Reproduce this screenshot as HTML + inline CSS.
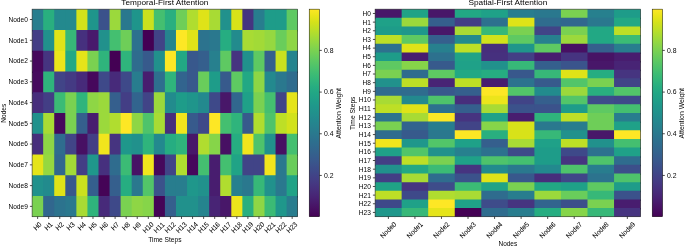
<!DOCTYPE html>
<html><head><meta charset="utf-8"><title>Attention heatmaps</title>
<style>
html,body{margin:0;padding:0;background:#fff;}
body{width:685px;height:247px;overflow:hidden;}
svg text{font-family:"Liberation Sans",sans-serif;fill:#000;}
#txt{opacity:0.999;}
svg text{stroke:none;}
svg text.r{stroke:#000;stroke-width:0.05px;}
</style></head><body>
<svg width="685" height="247" viewBox="0 0 685 247" style="display:block">
<rect width="685" height="247" fill="#fff"/>
<defs><linearGradient id="vg" x1="0" y1="1" x2="0" y2="0">
<stop offset="0.0000" stop-color="#440154"/>
<stop offset="0.0312" stop-color="#470d60"/>
<stop offset="0.0625" stop-color="#48186a"/>
<stop offset="0.0938" stop-color="#482374"/>
<stop offset="0.1250" stop-color="#472d7b"/>
<stop offset="0.1562" stop-color="#453781"/>
<stop offset="0.1875" stop-color="#424086"/>
<stop offset="0.2188" stop-color="#3e4989"/>
<stop offset="0.2500" stop-color="#3b528b"/>
<stop offset="0.2812" stop-color="#375b8d"/>
<stop offset="0.3125" stop-color="#33638d"/>
<stop offset="0.3438" stop-color="#2f6b8e"/>
<stop offset="0.3750" stop-color="#2c728e"/>
<stop offset="0.4062" stop-color="#297a8e"/>
<stop offset="0.4375" stop-color="#26828e"/>
<stop offset="0.4688" stop-color="#23898e"/>
<stop offset="0.5000" stop-color="#21918c"/>
<stop offset="0.5312" stop-color="#1f978b"/>
<stop offset="0.5625" stop-color="#1f9f88"/>
<stop offset="0.5938" stop-color="#21a685"/>
<stop offset="0.6250" stop-color="#27ad81"/>
<stop offset="0.6562" stop-color="#31b57b"/>
<stop offset="0.6875" stop-color="#3dbc74"/>
<stop offset="0.7188" stop-color="#4cc26c"/>
<stop offset="0.7500" stop-color="#5cc863"/>
<stop offset="0.7812" stop-color="#6ece58"/>
<stop offset="0.8125" stop-color="#81d34d"/>
<stop offset="0.8438" stop-color="#95d840"/>
<stop offset="0.8750" stop-color="#aadc32"/>
<stop offset="0.9062" stop-color="#c0df25"/>
<stop offset="0.9375" stop-color="#d5e21a"/>
<stop offset="0.9688" stop-color="#eae51a"/>
<stop offset="1.0000" stop-color="#fde725"/>
</linearGradient></defs>
<clipPath id="c32"><rect x="32.10" y="9.15" width="265.60" height="207.60"/></clipPath>
<g clip-path="url(#c32)">
<clipPath id="c32r0"><rect x="31.10" y="9.15" width="267.60" height="22.26"/></clipPath>
<g clip-path="url(#c32r0)" opacity="0.9999">
<rect x="32.10" y="8.15" width="12.27" height="23.76" fill="#287d8e"/>
<rect x="43.17" y="8.15" width="12.27" height="23.76" fill="#29af7f"/>
<rect x="54.23" y="8.15" width="12.27" height="23.76" fill="#23898e"/>
<rect x="65.30" y="8.15" width="12.27" height="23.76" fill="#23898e"/>
<rect x="76.37" y="8.15" width="12.27" height="23.76" fill="#d2e21b"/>
<rect x="87.43" y="8.15" width="12.27" height="23.76" fill="#1f958b"/>
<rect x="98.50" y="8.15" width="12.27" height="23.76" fill="#3b528b"/>
<rect x="109.57" y="8.15" width="12.27" height="23.76" fill="#9bd93c"/>
<rect x="120.63" y="8.15" width="12.27" height="23.76" fill="#2a788e"/>
<rect x="131.70" y="8.15" width="12.27" height="23.76" fill="#1f958b"/>
<rect x="142.77" y="8.15" width="12.27" height="23.76" fill="#cae11f"/>
<rect x="153.83" y="8.15" width="12.27" height="23.76" fill="#44bf70"/>
<rect x="164.90" y="8.15" width="12.27" height="23.76" fill="#29af7f"/>
<rect x="175.97" y="8.15" width="12.27" height="23.76" fill="#6ece58"/>
<rect x="187.03" y="8.15" width="12.27" height="23.76" fill="#b0dd2f"/>
<rect x="198.10" y="8.15" width="12.27" height="23.76" fill="#dfe318"/>
<rect x="209.17" y="8.15" width="12.27" height="23.76" fill="#a8db34"/>
<rect x="220.23" y="8.15" width="12.27" height="23.76" fill="#21918c"/>
<rect x="231.30" y="8.15" width="12.27" height="23.76" fill="#d8e219"/>
<rect x="242.37" y="8.15" width="12.27" height="23.76" fill="#463480"/>
<rect x="253.43" y="8.15" width="12.27" height="23.76" fill="#287d8e"/>
<rect x="264.50" y="8.15" width="12.27" height="23.76" fill="#1e9c89"/>
<rect x="275.57" y="8.15" width="12.27" height="23.76" fill="#1e9c89"/>
<rect x="286.63" y="8.15" width="12.27" height="23.76" fill="#5ec962"/>
</g>
<clipPath id="c32r1"><rect x="31.10" y="29.91" width="267.60" height="22.26"/></clipPath>
<g clip-path="url(#c32r1)" opacity="0.9999">
<rect x="32.10" y="28.91" width="12.27" height="23.76" fill="#433e85"/>
<rect x="43.17" y="28.91" width="12.27" height="23.76" fill="#21918c"/>
<rect x="54.23" y="28.91" width="12.27" height="23.76" fill="#dfe318"/>
<rect x="65.30" y="28.91" width="12.27" height="23.76" fill="#37b878"/>
<rect x="76.37" y="28.91" width="12.27" height="23.76" fill="#46307e"/>
<rect x="87.43" y="28.91" width="12.27" height="23.76" fill="#481a6c"/>
<rect x="98.50" y="28.91" width="12.27" height="23.76" fill="#21918c"/>
<rect x="109.57" y="28.91" width="12.27" height="23.76" fill="#44bf70"/>
<rect x="120.63" y="28.91" width="12.27" height="23.76" fill="#6ece58"/>
<rect x="131.70" y="28.91" width="12.27" height="23.76" fill="#2d718e"/>
<rect x="142.77" y="28.91" width="12.27" height="23.76" fill="#440154"/>
<rect x="153.83" y="28.91" width="12.27" height="23.76" fill="#414487"/>
<rect x="164.90" y="28.91" width="12.27" height="23.76" fill="#25848e"/>
<rect x="175.97" y="28.91" width="12.27" height="23.76" fill="#fde725"/>
<rect x="187.03" y="28.91" width="12.27" height="23.76" fill="#dfe318"/>
<rect x="198.10" y="28.91" width="12.27" height="23.76" fill="#2c738e"/>
<rect x="209.17" y="28.91" width="12.27" height="23.76" fill="#2a788e"/>
<rect x="220.23" y="28.91" width="12.27" height="23.76" fill="#26ad81"/>
<rect x="231.30" y="28.91" width="12.27" height="23.76" fill="#228b8d"/>
<rect x="242.37" y="28.91" width="12.27" height="23.76" fill="#a8db34"/>
<rect x="253.43" y="28.91" width="12.27" height="23.76" fill="#a2da37"/>
<rect x="264.50" y="28.91" width="12.27" height="23.76" fill="#95d840"/>
<rect x="275.57" y="28.91" width="12.27" height="23.76" fill="#69cd5b"/>
<rect x="286.63" y="28.91" width="12.27" height="23.76" fill="#8ed645"/>
</g>
<clipPath id="c32r2"><rect x="31.10" y="50.67" width="267.60" height="22.26"/></clipPath>
<g clip-path="url(#c32r2)" opacity="0.9999">
<rect x="32.10" y="49.67" width="12.27" height="23.76" fill="#46085c"/>
<rect x="43.17" y="49.67" width="12.27" height="23.76" fill="#463480"/>
<rect x="54.23" y="49.67" width="12.27" height="23.76" fill="#ece51b"/>
<rect x="65.30" y="49.67" width="12.27" height="23.76" fill="#22a884"/>
<rect x="76.37" y="49.67" width="12.27" height="23.76" fill="#e5e419"/>
<rect x="87.43" y="49.67" width="12.27" height="23.76" fill="#7ad151"/>
<rect x="98.50" y="49.67" width="12.27" height="23.76" fill="#2fb47c"/>
<rect x="109.57" y="49.67" width="12.27" height="23.76" fill="#440154"/>
<rect x="120.63" y="49.67" width="12.27" height="23.76" fill="#2fb47c"/>
<rect x="131.70" y="49.67" width="12.27" height="23.76" fill="#2f6c8e"/>
<rect x="142.77" y="49.67" width="12.27" height="23.76" fill="#375a8c"/>
<rect x="153.83" y="49.67" width="12.27" height="23.76" fill="#21918c"/>
<rect x="164.90" y="49.67" width="12.27" height="23.76" fill="#fde725"/>
<rect x="175.97" y="49.67" width="12.27" height="23.76" fill="#22a884"/>
<rect x="187.03" y="49.67" width="12.27" height="23.76" fill="#38588c"/>
<rect x="198.10" y="49.67" width="12.27" height="23.76" fill="#355f8d"/>
<rect x="209.17" y="49.67" width="12.27" height="23.76" fill="#27808e"/>
<rect x="220.23" y="49.67" width="12.27" height="23.76" fill="#5ec962"/>
<rect x="231.30" y="49.67" width="12.27" height="23.76" fill="#463480"/>
<rect x="242.37" y="49.67" width="12.27" height="23.76" fill="#21918c"/>
<rect x="253.43" y="49.67" width="12.27" height="23.76" fill="#5ec962"/>
<rect x="264.50" y="49.67" width="12.27" height="23.76" fill="#355f8d"/>
<rect x="275.57" y="49.67" width="12.27" height="23.76" fill="#cae11f"/>
<rect x="286.63" y="49.67" width="12.27" height="23.76" fill="#25848e"/>
</g>
<clipPath id="c32r3"><rect x="31.10" y="71.43" width="267.60" height="22.26"/></clipPath>
<g clip-path="url(#c32r3)" opacity="0.9999">
<rect x="32.10" y="70.43" width="12.27" height="23.76" fill="#460b5e"/>
<rect x="43.17" y="70.43" width="12.27" height="23.76" fill="#2fb47c"/>
<rect x="54.23" y="70.43" width="12.27" height="23.76" fill="#414487"/>
<rect x="65.30" y="70.43" width="12.27" height="23.76" fill="#443a83"/>
<rect x="76.37" y="70.43" width="12.27" height="23.76" fill="#472a7a"/>
<rect x="87.43" y="70.43" width="12.27" height="23.76" fill="#46085c"/>
<rect x="98.50" y="70.43" width="12.27" height="23.76" fill="#3e4989"/>
<rect x="109.57" y="70.43" width="12.27" height="23.76" fill="#472a7a"/>
<rect x="120.63" y="70.43" width="12.27" height="23.76" fill="#3e4989"/>
<rect x="131.70" y="70.43" width="12.27" height="23.76" fill="#287d8e"/>
<rect x="142.77" y="70.43" width="12.27" height="23.76" fill="#481d6f"/>
<rect x="153.83" y="70.43" width="12.27" height="23.76" fill="#2e6f8e"/>
<rect x="164.90" y="70.43" width="12.27" height="23.76" fill="#2fb47c"/>
<rect x="175.97" y="70.43" width="12.27" height="23.76" fill="#32648e"/>
<rect x="187.03" y="70.43" width="12.27" height="23.76" fill="#38588c"/>
<rect x="198.10" y="70.43" width="12.27" height="23.76" fill="#69cd5b"/>
<rect x="209.17" y="70.43" width="12.27" height="23.76" fill="#1e9c89"/>
<rect x="220.23" y="70.43" width="12.27" height="23.76" fill="#375a8c"/>
<rect x="231.30" y="70.43" width="12.27" height="23.76" fill="#5ec962"/>
<rect x="242.37" y="70.43" width="12.27" height="23.76" fill="#22a884"/>
<rect x="253.43" y="70.43" width="12.27" height="23.76" fill="#8ed645"/>
<rect x="264.50" y="70.43" width="12.27" height="23.76" fill="#23898e"/>
<rect x="275.57" y="70.43" width="12.27" height="23.76" fill="#2a788e"/>
<rect x="286.63" y="70.43" width="12.27" height="23.76" fill="#2f6c8e"/>
</g>
<clipPath id="c32r4"><rect x="31.10" y="92.19" width="267.60" height="22.26"/></clipPath>
<g clip-path="url(#c32r4)" opacity="0.9999">
<rect x="32.10" y="91.19" width="12.27" height="23.76" fill="#472e7c"/>
<rect x="43.17" y="91.19" width="12.27" height="23.76" fill="#433e85"/>
<rect x="54.23" y="91.19" width="12.27" height="23.76" fill="#3bbb75"/>
<rect x="65.30" y="91.19" width="12.27" height="23.76" fill="#7ad151"/>
<rect x="76.37" y="91.19" width="12.27" height="23.76" fill="#2fb47c"/>
<rect x="87.43" y="91.19" width="12.27" height="23.76" fill="#8ed645"/>
<rect x="98.50" y="91.19" width="12.27" height="23.76" fill="#9bd93c"/>
<rect x="109.57" y="91.19" width="12.27" height="23.76" fill="#355f8d"/>
<rect x="120.63" y="91.19" width="12.27" height="23.76" fill="#433e85"/>
<rect x="131.70" y="91.19" width="12.27" height="23.76" fill="#32648e"/>
<rect x="142.77" y="91.19" width="12.27" height="23.76" fill="#414487"/>
<rect x="153.83" y="91.19" width="12.27" height="23.76" fill="#9bd93c"/>
<rect x="164.90" y="91.19" width="12.27" height="23.76" fill="#228b8d"/>
<rect x="175.97" y="91.19" width="12.27" height="23.76" fill="#1e9c89"/>
<rect x="187.03" y="91.19" width="12.27" height="23.76" fill="#1f958b"/>
<rect x="198.10" y="91.19" width="12.27" height="23.76" fill="#23898e"/>
<rect x="209.17" y="91.19" width="12.27" height="23.76" fill="#3e4989"/>
<rect x="220.23" y="91.19" width="12.27" height="23.76" fill="#481769"/>
<rect x="231.30" y="91.19" width="12.27" height="23.76" fill="#31678e"/>
<rect x="242.37" y="91.19" width="12.27" height="23.76" fill="#1fa188"/>
<rect x="253.43" y="91.19" width="12.27" height="23.76" fill="#7ad151"/>
<rect x="264.50" y="91.19" width="12.27" height="23.76" fill="#44bf70"/>
<rect x="275.57" y="91.19" width="12.27" height="23.76" fill="#414487"/>
<rect x="286.63" y="91.19" width="12.27" height="23.76" fill="#e5e419"/>
</g>
<clipPath id="c32r5"><rect x="31.10" y="112.95" width="267.60" height="22.26"/></clipPath>
<g clip-path="url(#c32r5)" opacity="0.9999">
<rect x="32.10" y="111.95" width="12.27" height="23.76" fill="#21918c"/>
<rect x="43.17" y="111.95" width="12.27" height="23.76" fill="#a8db34"/>
<rect x="54.23" y="111.95" width="12.27" height="23.76" fill="#46085c"/>
<rect x="65.30" y="111.95" width="12.27" height="23.76" fill="#7ad151"/>
<rect x="76.37" y="111.95" width="12.27" height="23.76" fill="#355f8d"/>
<rect x="87.43" y="111.95" width="12.27" height="23.76" fill="#481d6f"/>
<rect x="98.50" y="111.95" width="12.27" height="23.76" fill="#9bd93c"/>
<rect x="109.57" y="111.95" width="12.27" height="23.76" fill="#b0dd2f"/>
<rect x="120.63" y="111.95" width="12.27" height="23.76" fill="#fde725"/>
<rect x="131.70" y="111.95" width="12.27" height="23.76" fill="#8ed645"/>
<rect x="142.77" y="111.95" width="12.27" height="23.76" fill="#4ec36b"/>
<rect x="153.83" y="111.95" width="12.27" height="23.76" fill="#a8db34"/>
<rect x="164.90" y="111.95" width="12.27" height="23.76" fill="#472e7c"/>
<rect x="175.97" y="111.95" width="12.27" height="23.76" fill="#f1e51d"/>
<rect x="187.03" y="111.95" width="12.27" height="23.76" fill="#375a8c"/>
<rect x="198.10" y="111.95" width="12.27" height="23.76" fill="#3e4989"/>
<rect x="209.17" y="111.95" width="12.27" height="23.76" fill="#fde725"/>
<rect x="220.23" y="111.95" width="12.27" height="23.76" fill="#44bf70"/>
<rect x="231.30" y="111.95" width="12.27" height="23.76" fill="#2fb47c"/>
<rect x="242.37" y="111.95" width="12.27" height="23.76" fill="#375a8c"/>
<rect x="253.43" y="111.95" width="12.27" height="23.76" fill="#b0dd2f"/>
<rect x="264.50" y="111.95" width="12.27" height="23.76" fill="#4ec36b"/>
<rect x="275.57" y="111.95" width="12.27" height="23.76" fill="#bddf26"/>
<rect x="286.63" y="111.95" width="12.27" height="23.76" fill="#d2e21b"/>
</g>
<clipPath id="c32r6"><rect x="31.10" y="133.71" width="267.60" height="22.26"/></clipPath>
<g clip-path="url(#c32r6)" opacity="0.9999">
<rect x="32.10" y="132.71" width="12.27" height="23.76" fill="#472e7c"/>
<rect x="43.17" y="132.71" width="12.27" height="23.76" fill="#8ed645"/>
<rect x="54.23" y="132.71" width="12.27" height="23.76" fill="#2f6c8e"/>
<rect x="65.30" y="132.71" width="12.27" height="23.76" fill="#414487"/>
<rect x="76.37" y="132.71" width="12.27" height="23.76" fill="#471063"/>
<rect x="87.43" y="132.71" width="12.27" height="23.76" fill="#433e85"/>
<rect x="98.50" y="132.71" width="12.27" height="23.76" fill="#f1e51d"/>
<rect x="109.57" y="132.71" width="12.27" height="23.76" fill="#463480"/>
<rect x="120.63" y="132.71" width="12.27" height="23.76" fill="#1f978b"/>
<rect x="131.70" y="132.71" width="12.27" height="23.76" fill="#21918c"/>
<rect x="142.77" y="132.71" width="12.27" height="23.76" fill="#2fb47c"/>
<rect x="153.83" y="132.71" width="12.27" height="23.76" fill="#23898e"/>
<rect x="164.90" y="132.71" width="12.27" height="23.76" fill="#26ad81"/>
<rect x="175.97" y="132.71" width="12.27" height="23.76" fill="#2fb47c"/>
<rect x="187.03" y="132.71" width="12.27" height="23.76" fill="#481769"/>
<rect x="198.10" y="132.71" width="12.27" height="23.76" fill="#b0dd2f"/>
<rect x="209.17" y="132.71" width="12.27" height="23.76" fill="#86d549"/>
<rect x="220.23" y="132.71" width="12.27" height="23.76" fill="#471063"/>
<rect x="231.30" y="132.71" width="12.27" height="23.76" fill="#26ad81"/>
<rect x="242.37" y="132.71" width="12.27" height="23.76" fill="#f1e51d"/>
<rect x="253.43" y="132.71" width="12.27" height="23.76" fill="#4ec36b"/>
<rect x="264.50" y="132.71" width="12.27" height="23.76" fill="#21918c"/>
<rect x="275.57" y="132.71" width="12.27" height="23.76" fill="#471063"/>
<rect x="286.63" y="132.71" width="12.27" height="23.76" fill="#44bf70"/>
</g>
<clipPath id="c32r7"><rect x="31.10" y="154.47" width="267.60" height="22.26"/></clipPath>
<g clip-path="url(#c32r7)" opacity="0.9999">
<rect x="32.10" y="153.47" width="12.27" height="23.76" fill="#e5e419"/>
<rect x="43.17" y="153.47" width="12.27" height="23.76" fill="#95d840"/>
<rect x="54.23" y="153.47" width="12.27" height="23.76" fill="#31678e"/>
<rect x="65.30" y="153.47" width="12.27" height="23.76" fill="#a2da37"/>
<rect x="76.37" y="153.47" width="12.27" height="23.76" fill="#433e85"/>
<rect x="87.43" y="153.47" width="12.27" height="23.76" fill="#1f978b"/>
<rect x="98.50" y="153.47" width="12.27" height="23.76" fill="#46307e"/>
<rect x="109.57" y="153.47" width="12.27" height="23.76" fill="#2f6c8e"/>
<rect x="120.63" y="153.47" width="12.27" height="23.76" fill="#3bbb75"/>
<rect x="131.70" y="153.47" width="12.27" height="23.76" fill="#471365"/>
<rect x="142.77" y="153.47" width="12.27" height="23.76" fill="#f1e51d"/>
<rect x="153.83" y="153.47" width="12.27" height="23.76" fill="#46085c"/>
<rect x="164.90" y="153.47" width="12.27" height="23.76" fill="#414487"/>
<rect x="175.97" y="153.47" width="12.27" height="23.76" fill="#b0dd2f"/>
<rect x="187.03" y="153.47" width="12.27" height="23.76" fill="#46085c"/>
<rect x="198.10" y="153.47" width="12.27" height="23.76" fill="#44bf70"/>
<rect x="209.17" y="153.47" width="12.27" height="23.76" fill="#481d6f"/>
<rect x="220.23" y="153.47" width="12.27" height="23.76" fill="#44bf70"/>
<rect x="231.30" y="153.47" width="12.27" height="23.76" fill="#20a386"/>
<rect x="242.37" y="153.47" width="12.27" height="23.76" fill="#414487"/>
<rect x="253.43" y="153.47" width="12.27" height="23.76" fill="#414487"/>
<rect x="264.50" y="153.47" width="12.27" height="23.76" fill="#f1e51d"/>
<rect x="275.57" y="153.47" width="12.27" height="23.76" fill="#2a788e"/>
<rect x="286.63" y="153.47" width="12.27" height="23.76" fill="#69cd5b"/>
</g>
<clipPath id="c32r8"><rect x="31.10" y="175.23" width="267.60" height="22.26"/></clipPath>
<g clip-path="url(#c32r8)" opacity="0.9999">
<rect x="32.10" y="174.23" width="12.27" height="23.76" fill="#21918c"/>
<rect x="43.17" y="174.23" width="12.27" height="23.76" fill="#228b8d"/>
<rect x="54.23" y="174.23" width="12.27" height="23.76" fill="#dfe318"/>
<rect x="65.30" y="174.23" width="12.27" height="23.76" fill="#38588c"/>
<rect x="76.37" y="174.23" width="12.27" height="23.76" fill="#cae11f"/>
<rect x="87.43" y="174.23" width="12.27" height="23.76" fill="#355f8d"/>
<rect x="98.50" y="174.23" width="12.27" height="23.76" fill="#450457"/>
<rect x="109.57" y="174.23" width="12.27" height="23.76" fill="#355f8d"/>
<rect x="120.63" y="174.23" width="12.27" height="23.76" fill="#26ad81"/>
<rect x="131.70" y="174.23" width="12.27" height="23.76" fill="#2a788e"/>
<rect x="142.77" y="174.23" width="12.27" height="23.76" fill="#52c569"/>
<rect x="153.83" y="174.23" width="12.27" height="23.76" fill="#3b528b"/>
<rect x="164.90" y="174.23" width="12.27" height="23.76" fill="#287d8e"/>
<rect x="175.97" y="174.23" width="12.27" height="23.76" fill="#287d8e"/>
<rect x="187.03" y="174.23" width="12.27" height="23.76" fill="#1f978b"/>
<rect x="198.10" y="174.23" width="12.27" height="23.76" fill="#21918c"/>
<rect x="209.17" y="174.23" width="12.27" height="23.76" fill="#481d6f"/>
<rect x="220.23" y="174.23" width="12.27" height="23.76" fill="#b0dd2f"/>
<rect x="231.30" y="174.23" width="12.27" height="23.76" fill="#27808e"/>
<rect x="242.37" y="174.23" width="12.27" height="23.76" fill="#2a788e"/>
<rect x="253.43" y="174.23" width="12.27" height="23.76" fill="#37b878"/>
<rect x="264.50" y="174.23" width="12.27" height="23.76" fill="#21918c"/>
<rect x="275.57" y="174.23" width="12.27" height="23.76" fill="#2a788e"/>
<rect x="286.63" y="174.23" width="12.27" height="23.76" fill="#20a386"/>
</g>
<clipPath id="c32r9"><rect x="31.10" y="195.99" width="267.60" height="22.26"/></clipPath>
<g clip-path="url(#c32r9)" opacity="0.9999">
<rect x="32.10" y="194.99" width="12.27" height="23.76" fill="#7ad151"/>
<rect x="43.17" y="194.99" width="12.27" height="23.76" fill="#31678e"/>
<rect x="54.23" y="194.99" width="12.27" height="23.76" fill="#2c738e"/>
<rect x="65.30" y="194.99" width="12.27" height="23.76" fill="#2a788e"/>
<rect x="76.37" y="194.99" width="12.27" height="23.76" fill="#a8db34"/>
<rect x="87.43" y="194.99" width="12.27" height="23.76" fill="#2fb47c"/>
<rect x="98.50" y="194.99" width="12.27" height="23.76" fill="#472a7a"/>
<rect x="109.57" y="194.99" width="12.27" height="23.76" fill="#3e4989"/>
<rect x="120.63" y="194.99" width="12.27" height="23.76" fill="#7ad151"/>
<rect x="131.70" y="194.99" width="12.27" height="23.76" fill="#8ed645"/>
<rect x="142.77" y="194.99" width="12.27" height="23.76" fill="#86d549"/>
<rect x="153.83" y="194.99" width="12.27" height="23.76" fill="#450457"/>
<rect x="164.90" y="194.99" width="12.27" height="23.76" fill="#355f8d"/>
<rect x="175.97" y="194.99" width="12.27" height="23.76" fill="#21918c"/>
<rect x="187.03" y="194.99" width="12.27" height="23.76" fill="#21918c"/>
<rect x="198.10" y="194.99" width="12.27" height="23.76" fill="#25848e"/>
<rect x="209.17" y="194.99" width="12.27" height="23.76" fill="#482475"/>
<rect x="220.23" y="194.99" width="12.27" height="23.76" fill="#481769"/>
<rect x="231.30" y="194.99" width="12.27" height="23.76" fill="#ece51b"/>
<rect x="242.37" y="194.99" width="12.27" height="23.76" fill="#29af7f"/>
<rect x="253.43" y="194.99" width="12.27" height="23.76" fill="#8ed645"/>
<rect x="264.50" y="194.99" width="12.27" height="23.76" fill="#3bbb75"/>
<rect x="275.57" y="194.99" width="12.27" height="23.76" fill="#1f978b"/>
<rect x="286.63" y="194.99" width="12.27" height="23.76" fill="#287d8e"/>
</g>
</g>
<rect x="32.10" y="9.15" width="265.60" height="207.60" fill="none" stroke="#000" stroke-width="0.58" stroke-opacity="0.85"/>
<line x1="37.63" y1="216.75" x2="37.63" y2="218.95" stroke="#000" stroke-width="0.7"/>
<line x1="48.70" y1="216.75" x2="48.70" y2="218.95" stroke="#000" stroke-width="0.7"/>
<line x1="59.77" y1="216.75" x2="59.77" y2="218.95" stroke="#000" stroke-width="0.7"/>
<line x1="70.83" y1="216.75" x2="70.83" y2="218.95" stroke="#000" stroke-width="0.7"/>
<line x1="81.90" y1="216.75" x2="81.90" y2="218.95" stroke="#000" stroke-width="0.7"/>
<line x1="92.97" y1="216.75" x2="92.97" y2="218.95" stroke="#000" stroke-width="0.7"/>
<line x1="104.03" y1="216.75" x2="104.03" y2="218.95" stroke="#000" stroke-width="0.7"/>
<line x1="115.10" y1="216.75" x2="115.10" y2="218.95" stroke="#000" stroke-width="0.7"/>
<line x1="126.17" y1="216.75" x2="126.17" y2="218.95" stroke="#000" stroke-width="0.7"/>
<line x1="137.23" y1="216.75" x2="137.23" y2="218.95" stroke="#000" stroke-width="0.7"/>
<line x1="148.30" y1="216.75" x2="148.30" y2="218.95" stroke="#000" stroke-width="0.7"/>
<line x1="159.37" y1="216.75" x2="159.37" y2="218.95" stroke="#000" stroke-width="0.7"/>
<line x1="170.43" y1="216.75" x2="170.43" y2="218.95" stroke="#000" stroke-width="0.7"/>
<line x1="181.50" y1="216.75" x2="181.50" y2="218.95" stroke="#000" stroke-width="0.7"/>
<line x1="192.57" y1="216.75" x2="192.57" y2="218.95" stroke="#000" stroke-width="0.7"/>
<line x1="203.63" y1="216.75" x2="203.63" y2="218.95" stroke="#000" stroke-width="0.7"/>
<line x1="214.70" y1="216.75" x2="214.70" y2="218.95" stroke="#000" stroke-width="0.7"/>
<line x1="225.77" y1="216.75" x2="225.77" y2="218.95" stroke="#000" stroke-width="0.7"/>
<line x1="236.83" y1="216.75" x2="236.83" y2="218.95" stroke="#000" stroke-width="0.7"/>
<line x1="247.90" y1="216.75" x2="247.90" y2="218.95" stroke="#000" stroke-width="0.7"/>
<line x1="258.97" y1="216.75" x2="258.97" y2="218.95" stroke="#000" stroke-width="0.7"/>
<line x1="270.03" y1="216.75" x2="270.03" y2="218.95" stroke="#000" stroke-width="0.7"/>
<line x1="281.10" y1="216.75" x2="281.10" y2="218.95" stroke="#000" stroke-width="0.7"/>
<line x1="292.17" y1="216.75" x2="292.17" y2="218.95" stroke="#000" stroke-width="0.7"/>
<line x1="29.90" y1="19.53" x2="32.10" y2="19.53" stroke="#000" stroke-width="0.7"/>
<line x1="29.90" y1="40.29" x2="32.10" y2="40.29" stroke="#000" stroke-width="0.7"/>
<line x1="29.90" y1="61.05" x2="32.10" y2="61.05" stroke="#000" stroke-width="0.7"/>
<line x1="29.90" y1="81.81" x2="32.10" y2="81.81" stroke="#000" stroke-width="0.7"/>
<line x1="29.90" y1="102.57" x2="32.10" y2="102.57" stroke="#000" stroke-width="0.7"/>
<line x1="29.90" y1="123.33" x2="32.10" y2="123.33" stroke="#000" stroke-width="0.7"/>
<line x1="29.90" y1="144.09" x2="32.10" y2="144.09" stroke="#000" stroke-width="0.7"/>
<line x1="29.90" y1="164.85" x2="32.10" y2="164.85" stroke="#000" stroke-width="0.7"/>
<line x1="29.90" y1="185.61" x2="32.10" y2="185.61" stroke="#000" stroke-width="0.7"/>
<line x1="29.90" y1="206.37" x2="32.10" y2="206.37" stroke="#000" stroke-width="0.7"/>
<rect x="309.20" y="9.15" width="10.40" height="207.60" fill="url(#vg)" stroke="#000" stroke-width="0.48"/>
<line x1="319.60" y1="175.44" x2="321.80" y2="175.44" stroke="#000" stroke-width="0.7"/>
<line x1="319.60" y1="133.76" x2="321.80" y2="133.76" stroke="#000" stroke-width="0.7"/>
<line x1="319.60" y1="92.08" x2="321.80" y2="92.08" stroke="#000" stroke-width="0.7"/>
<line x1="319.60" y1="50.40" x2="321.80" y2="50.40" stroke="#000" stroke-width="0.7"/>
<clipPath id="c375"><rect x="375.10" y="9.15" width="265.50" height="207.60"/></clipPath>
<g clip-path="url(#c375)">
<clipPath id="c375r0"><rect x="374.10" y="9.15" width="267.50" height="10.15"/></clipPath>
<g clip-path="url(#c375r0)" opacity="0.9999">
<rect x="375.10" y="8.15" width="27.75" height="11.65" fill="#481769"/>
<rect x="401.65" y="8.15" width="27.75" height="11.65" fill="#20a386"/>
<rect x="428.20" y="8.15" width="27.75" height="11.65" fill="#481769"/>
<rect x="454.75" y="8.15" width="27.75" height="11.65" fill="#22a884"/>
<rect x="481.30" y="8.15" width="27.75" height="11.65" fill="#1fa188"/>
<rect x="507.85" y="8.15" width="27.75" height="11.65" fill="#287d8e"/>
<rect x="534.40" y="8.15" width="27.75" height="11.65" fill="#2a788e"/>
<rect x="560.95" y="8.15" width="27.75" height="11.65" fill="#7ad151"/>
<rect x="587.50" y="8.15" width="27.75" height="11.65" fill="#27808e"/>
<rect x="614.05" y="8.15" width="27.75" height="11.65" fill="#1e9c89"/>
</g>
<clipPath id="c375r1"><rect x="374.10" y="17.80" width="267.50" height="10.15"/></clipPath>
<g clip-path="url(#c375r1)" opacity="0.9999">
<rect x="375.10" y="16.80" width="27.75" height="11.65" fill="#1fa188"/>
<rect x="401.65" y="16.80" width="27.75" height="11.65" fill="#9bd93c"/>
<rect x="428.20" y="16.80" width="27.75" height="11.65" fill="#355f8d"/>
<rect x="454.75" y="16.80" width="27.75" height="11.65" fill="#433e85"/>
<rect x="481.30" y="16.80" width="27.75" height="11.65" fill="#2d718e"/>
<rect x="507.85" y="16.80" width="27.75" height="11.65" fill="#dfe318"/>
<rect x="534.40" y="16.80" width="27.75" height="11.65" fill="#2f6c8e"/>
<rect x="560.95" y="16.80" width="27.75" height="11.65" fill="#31678e"/>
<rect x="587.50" y="16.80" width="27.75" height="11.65" fill="#2a788e"/>
<rect x="614.05" y="16.80" width="27.75" height="11.65" fill="#22a884"/>
</g>
<clipPath id="c375r2"><rect x="374.10" y="26.45" width="267.50" height="10.15"/></clipPath>
<g clip-path="url(#c375r2)" opacity="0.9999">
<rect x="375.10" y="25.45" width="27.75" height="11.65" fill="#1e9c89"/>
<rect x="401.65" y="25.45" width="27.75" height="11.65" fill="#1f978b"/>
<rect x="428.20" y="25.45" width="27.75" height="11.65" fill="#481769"/>
<rect x="454.75" y="25.45" width="27.75" height="11.65" fill="#a8db34"/>
<rect x="481.30" y="25.45" width="27.75" height="11.65" fill="#37b878"/>
<rect x="507.85" y="25.45" width="27.75" height="11.65" fill="#7ad151"/>
<rect x="534.40" y="25.45" width="27.75" height="11.65" fill="#414487"/>
<rect x="560.95" y="25.45" width="27.75" height="11.65" fill="#7ad151"/>
<rect x="587.50" y="25.45" width="27.75" height="11.65" fill="#22a884"/>
<rect x="614.05" y="25.45" width="27.75" height="11.65" fill="#bddf26"/>
</g>
<clipPath id="c375r3"><rect x="374.10" y="35.10" width="267.50" height="10.15"/></clipPath>
<g clip-path="url(#c375r3)" opacity="0.9999">
<rect x="375.10" y="34.10" width="27.75" height="11.65" fill="#bddf26"/>
<rect x="401.65" y="34.10" width="27.75" height="11.65" fill="#5ec962"/>
<rect x="428.20" y="34.10" width="27.75" height="11.65" fill="#355f8d"/>
<rect x="454.75" y="34.10" width="27.75" height="11.65" fill="#228b8d"/>
<rect x="481.30" y="34.10" width="27.75" height="11.65" fill="#d2e21b"/>
<rect x="507.85" y="34.10" width="27.75" height="11.65" fill="#5ec962"/>
<rect x="534.40" y="34.10" width="27.75" height="11.65" fill="#27808e"/>
<rect x="560.95" y="34.10" width="27.75" height="11.65" fill="#9bd93c"/>
<rect x="587.50" y="34.10" width="27.75" height="11.65" fill="#22a884"/>
<rect x="614.05" y="34.10" width="27.75" height="11.65" fill="#3bbb75"/>
</g>
<clipPath id="c375r4"><rect x="374.10" y="43.75" width="267.50" height="10.15"/></clipPath>
<g clip-path="url(#c375r4)" opacity="0.9999">
<rect x="375.10" y="42.75" width="27.75" height="11.65" fill="#2d718e"/>
<rect x="401.65" y="42.75" width="27.75" height="11.65" fill="#dfe318"/>
<rect x="428.20" y="42.75" width="27.75" height="11.65" fill="#27808e"/>
<rect x="454.75" y="42.75" width="27.75" height="11.65" fill="#bddf26"/>
<rect x="481.30" y="42.75" width="27.75" height="11.65" fill="#472e7c"/>
<rect x="507.85" y="42.75" width="27.75" height="11.65" fill="#1f958b"/>
<rect x="534.40" y="42.75" width="27.75" height="11.65" fill="#5ec962"/>
<rect x="560.95" y="42.75" width="27.75" height="11.65" fill="#471063"/>
<rect x="587.50" y="42.75" width="27.75" height="11.65" fill="#355f8d"/>
<rect x="614.05" y="42.75" width="27.75" height="11.65" fill="#287d8e"/>
</g>
<clipPath id="c375r5"><rect x="374.10" y="52.40" width="267.50" height="10.15"/></clipPath>
<g clip-path="url(#c375r5)" opacity="0.9999">
<rect x="375.10" y="51.40" width="27.75" height="11.65" fill="#1e9c89"/>
<rect x="401.65" y="51.40" width="27.75" height="11.65" fill="#481d6f"/>
<rect x="428.20" y="51.40" width="27.75" height="11.65" fill="#2d718e"/>
<rect x="454.75" y="51.40" width="27.75" height="11.65" fill="#20a386"/>
<rect x="481.30" y="51.40" width="27.75" height="11.65" fill="#46307e"/>
<rect x="507.85" y="51.40" width="27.75" height="11.65" fill="#433e85"/>
<rect x="534.40" y="51.40" width="27.75" height="11.65" fill="#481d6f"/>
<rect x="560.95" y="51.40" width="27.75" height="11.65" fill="#463480"/>
<rect x="587.50" y="51.40" width="27.75" height="11.65" fill="#471365"/>
<rect x="614.05" y="51.40" width="27.75" height="11.65" fill="#481d6f"/>
</g>
<clipPath id="c375r6"><rect x="374.10" y="61.05" width="267.50" height="10.15"/></clipPath>
<g clip-path="url(#c375r6)" opacity="0.9999">
<rect x="375.10" y="60.05" width="27.75" height="11.65" fill="#5ec962"/>
<rect x="401.65" y="60.05" width="27.75" height="11.65" fill="#86d549"/>
<rect x="428.20" y="60.05" width="27.75" height="11.65" fill="#375a8c"/>
<rect x="454.75" y="60.05" width="27.75" height="11.65" fill="#1fa188"/>
<rect x="481.30" y="60.05" width="27.75" height="11.65" fill="#21918c"/>
<rect x="507.85" y="60.05" width="27.75" height="11.65" fill="#37b878"/>
<rect x="534.40" y="60.05" width="27.75" height="11.65" fill="#355f8d"/>
<rect x="560.95" y="60.05" width="27.75" height="11.65" fill="#3a548c"/>
<rect x="587.50" y="60.05" width="27.75" height="11.65" fill="#481769"/>
<rect x="614.05" y="60.05" width="27.75" height="11.65" fill="#482475"/>
</g>
<clipPath id="c375r7"><rect x="374.10" y="69.70" width="267.50" height="10.15"/></clipPath>
<g clip-path="url(#c375r7)" opacity="0.9999">
<rect x="375.10" y="68.70" width="27.75" height="11.65" fill="#7ad151"/>
<rect x="401.65" y="68.70" width="27.75" height="11.65" fill="#2f6c8e"/>
<rect x="428.20" y="68.70" width="27.75" height="11.65" fill="#5ec962"/>
<rect x="454.75" y="68.70" width="27.75" height="11.65" fill="#22a884"/>
<rect x="481.30" y="68.70" width="27.75" height="11.65" fill="#26ad81"/>
<rect x="507.85" y="68.70" width="27.75" height="11.65" fill="#38588c"/>
<rect x="534.40" y="68.70" width="27.75" height="11.65" fill="#37b878"/>
<rect x="560.95" y="68.70" width="27.75" height="11.65" fill="#dfe318"/>
<rect x="587.50" y="68.70" width="27.75" height="11.65" fill="#26ad81"/>
<rect x="614.05" y="68.70" width="27.75" height="11.65" fill="#463480"/>
</g>
<clipPath id="c375r8"><rect x="374.10" y="78.35" width="267.50" height="10.15"/></clipPath>
<g clip-path="url(#c375r8)" opacity="0.9999">
<rect x="375.10" y="77.35" width="27.75" height="11.65" fill="#21918c"/>
<rect x="401.65" y="77.35" width="27.75" height="11.65" fill="#bddf26"/>
<rect x="428.20" y="77.35" width="27.75" height="11.65" fill="#482475"/>
<rect x="454.75" y="77.35" width="27.75" height="11.65" fill="#bddf26"/>
<rect x="481.30" y="77.35" width="27.75" height="11.65" fill="#481d6f"/>
<rect x="507.85" y="77.35" width="27.75" height="11.65" fill="#2c738e"/>
<rect x="534.40" y="77.35" width="27.75" height="11.65" fill="#375a8c"/>
<rect x="560.95" y="77.35" width="27.75" height="11.65" fill="#52c569"/>
<rect x="587.50" y="77.35" width="27.75" height="11.65" fill="#7ad151"/>
<rect x="614.05" y="77.35" width="27.75" height="11.65" fill="#414487"/>
</g>
<clipPath id="c375r9"><rect x="374.10" y="87.00" width="267.50" height="10.15"/></clipPath>
<g clip-path="url(#c375r9)" opacity="0.9999">
<rect x="375.10" y="86.00" width="27.75" height="11.65" fill="#2f6c8e"/>
<rect x="401.65" y="86.00" width="27.75" height="11.65" fill="#2f6c8e"/>
<rect x="428.20" y="86.00" width="27.75" height="11.65" fill="#38588c"/>
<rect x="454.75" y="86.00" width="27.75" height="11.65" fill="#355f8d"/>
<rect x="481.30" y="86.00" width="27.75" height="11.65" fill="#fde725"/>
<rect x="507.85" y="86.00" width="27.75" height="11.65" fill="#52c569"/>
<rect x="534.40" y="86.00" width="27.75" height="11.65" fill="#228b8d"/>
<rect x="560.95" y="86.00" width="27.75" height="11.65" fill="#9bd93c"/>
<rect x="587.50" y="86.00" width="27.75" height="11.65" fill="#29af7f"/>
<rect x="614.05" y="86.00" width="27.75" height="11.65" fill="#52c569"/>
</g>
<clipPath id="c375r10"><rect x="374.10" y="95.65" width="267.50" height="10.15"/></clipPath>
<g clip-path="url(#c375r10)" opacity="0.9999">
<rect x="375.10" y="94.65" width="27.75" height="11.65" fill="#a8db34"/>
<rect x="401.65" y="94.65" width="27.75" height="11.65" fill="#23898e"/>
<rect x="428.20" y="94.65" width="27.75" height="11.65" fill="#4ec36b"/>
<rect x="454.75" y="94.65" width="27.75" height="11.65" fill="#472e7c"/>
<rect x="481.30" y="94.65" width="27.75" height="11.65" fill="#ece51b"/>
<rect x="507.85" y="94.65" width="27.75" height="11.65" fill="#414487"/>
<rect x="534.40" y="94.65" width="27.75" height="11.65" fill="#355f8d"/>
<rect x="560.95" y="94.65" width="27.75" height="11.65" fill="#52c569"/>
<rect x="587.50" y="94.65" width="27.75" height="11.65" fill="#3e4c8a"/>
<rect x="614.05" y="94.65" width="27.75" height="11.65" fill="#3e4989"/>
</g>
<clipPath id="c375r11"><rect x="374.10" y="104.30" width="267.50" height="10.15"/></clipPath>
<g clip-path="url(#c375r11)" opacity="0.9999">
<rect x="375.10" y="103.30" width="27.75" height="11.65" fill="#bddf26"/>
<rect x="401.65" y="103.30" width="27.75" height="11.65" fill="#dfe318"/>
<rect x="428.20" y="103.30" width="27.75" height="11.65" fill="#2d718e"/>
<rect x="454.75" y="103.30" width="27.75" height="11.65" fill="#355f8d"/>
<rect x="481.30" y="103.30" width="27.75" height="11.65" fill="#a8db34"/>
<rect x="507.85" y="103.30" width="27.75" height="11.65" fill="#3b528b"/>
<rect x="534.40" y="103.30" width="27.75" height="11.65" fill="#3b528b"/>
<rect x="560.95" y="103.30" width="27.75" height="11.65" fill="#1e9c89"/>
<rect x="587.50" y="103.30" width="27.75" height="11.65" fill="#5ec962"/>
<rect x="614.05" y="103.30" width="27.75" height="11.65" fill="#44bf70"/>
</g>
<clipPath id="c375r12"><rect x="374.10" y="112.95" width="267.50" height="10.15"/></clipPath>
<g clip-path="url(#c375r12)" opacity="0.9999">
<rect x="375.10" y="111.95" width="27.75" height="11.65" fill="#2c738e"/>
<rect x="401.65" y="111.95" width="27.75" height="11.65" fill="#a8db34"/>
<rect x="428.20" y="111.95" width="27.75" height="11.65" fill="#fde725"/>
<rect x="454.75" y="111.95" width="27.75" height="11.65" fill="#463480"/>
<rect x="481.30" y="111.95" width="27.75" height="11.65" fill="#1fa188"/>
<rect x="507.85" y="111.95" width="27.75" height="11.65" fill="#481d6f"/>
<rect x="534.40" y="111.95" width="27.75" height="11.65" fill="#2fb47c"/>
<rect x="560.95" y="111.95" width="27.75" height="11.65" fill="#bddf26"/>
<rect x="587.50" y="111.95" width="27.75" height="11.65" fill="#6ece58"/>
<rect x="614.05" y="111.95" width="27.75" height="11.65" fill="#287d8e"/>
</g>
<clipPath id="c375r13"><rect x="374.10" y="121.60" width="267.50" height="10.15"/></clipPath>
<g clip-path="url(#c375r13)" opacity="0.9999">
<rect x="375.10" y="120.60" width="27.75" height="11.65" fill="#7ad151"/>
<rect x="401.65" y="120.60" width="27.75" height="11.65" fill="#32648e"/>
<rect x="428.20" y="120.60" width="27.75" height="11.65" fill="#287d8e"/>
<rect x="454.75" y="120.60" width="27.75" height="11.65" fill="#414487"/>
<rect x="481.30" y="120.60" width="27.75" height="11.65" fill="#86d549"/>
<rect x="507.85" y="120.60" width="27.75" height="11.65" fill="#d8e219"/>
<rect x="534.40" y="120.60" width="27.75" height="11.65" fill="#2a788e"/>
<rect x="560.95" y="120.60" width="27.75" height="11.65" fill="#287d8e"/>
<rect x="587.50" y="120.60" width="27.75" height="11.65" fill="#6ece58"/>
<rect x="614.05" y="120.60" width="27.75" height="11.65" fill="#1fa188"/>
</g>
<clipPath id="c375r14"><rect x="374.10" y="130.25" width="267.50" height="10.15"/></clipPath>
<g clip-path="url(#c375r14)" opacity="0.9999">
<rect x="375.10" y="129.25" width="27.75" height="11.65" fill="#2f6c8e"/>
<rect x="401.65" y="129.25" width="27.75" height="11.65" fill="#375a8c"/>
<rect x="428.20" y="129.25" width="27.75" height="11.65" fill="#2a788e"/>
<rect x="454.75" y="129.25" width="27.75" height="11.65" fill="#fde725"/>
<rect x="481.30" y="129.25" width="27.75" height="11.65" fill="#29af7f"/>
<rect x="507.85" y="129.25" width="27.75" height="11.65" fill="#d8e219"/>
<rect x="534.40" y="129.25" width="27.75" height="11.65" fill="#37b878"/>
<rect x="560.95" y="129.25" width="27.75" height="11.65" fill="#21918c"/>
<rect x="587.50" y="129.25" width="27.75" height="11.65" fill="#481769"/>
<rect x="614.05" y="129.25" width="27.75" height="11.65" fill="#fde725"/>
</g>
<clipPath id="c375r15"><rect x="374.10" y="138.90" width="267.50" height="10.15"/></clipPath>
<g clip-path="url(#c375r15)" opacity="0.9999">
<rect x="375.10" y="137.90" width="27.75" height="11.65" fill="#f1e51d"/>
<rect x="401.65" y="137.90" width="27.75" height="11.65" fill="#1f978b"/>
<rect x="428.20" y="137.90" width="27.75" height="11.65" fill="#52c569"/>
<rect x="454.75" y="137.90" width="27.75" height="11.65" fill="#1fa188"/>
<rect x="481.30" y="137.90" width="27.75" height="11.65" fill="#355f8d"/>
<rect x="507.85" y="137.90" width="27.75" height="11.65" fill="#a8db34"/>
<rect x="534.40" y="137.90" width="27.75" height="11.65" fill="#1fa188"/>
<rect x="560.95" y="137.90" width="27.75" height="11.65" fill="#bddf26"/>
<rect x="587.50" y="137.90" width="27.75" height="11.65" fill="#21918c"/>
<rect x="614.05" y="137.90" width="27.75" height="11.65" fill="#44bf70"/>
</g>
<clipPath id="c375r16"><rect x="374.10" y="147.55" width="267.50" height="10.15"/></clipPath>
<g clip-path="url(#c375r16)" opacity="0.9999">
<rect x="375.10" y="146.55" width="27.75" height="11.65" fill="#1fa188"/>
<rect x="401.65" y="146.55" width="27.75" height="11.65" fill="#52c569"/>
<rect x="428.20" y="146.55" width="27.75" height="11.65" fill="#21918c"/>
<rect x="454.75" y="146.55" width="27.75" height="11.65" fill="#27808e"/>
<rect x="481.30" y="146.55" width="27.75" height="11.65" fill="#2d718e"/>
<rect x="507.85" y="146.55" width="27.75" height="11.65" fill="#3e4989"/>
<rect x="534.40" y="146.55" width="27.75" height="11.65" fill="#1e9c89"/>
<rect x="560.95" y="146.55" width="27.75" height="11.65" fill="#3e4989"/>
<rect x="587.50" y="146.55" width="27.75" height="11.65" fill="#2d718e"/>
<rect x="614.05" y="146.55" width="27.75" height="11.65" fill="#1fa188"/>
</g>
<clipPath id="c375r17"><rect x="374.10" y="156.20" width="267.50" height="10.15"/></clipPath>
<g clip-path="url(#c375r17)" opacity="0.9999">
<rect x="375.10" y="155.20" width="27.75" height="11.65" fill="#433e85"/>
<rect x="401.65" y="155.20" width="27.75" height="11.65" fill="#bddf26"/>
<rect x="428.20" y="155.20" width="27.75" height="11.65" fill="#7ad151"/>
<rect x="454.75" y="155.20" width="27.75" height="11.65" fill="#1fa188"/>
<rect x="481.30" y="155.20" width="27.75" height="11.65" fill="#4ec36b"/>
<rect x="507.85" y="155.20" width="27.75" height="11.65" fill="#44bf70"/>
<rect x="534.40" y="155.20" width="27.75" height="11.65" fill="#1e9c89"/>
<rect x="560.95" y="155.20" width="27.75" height="11.65" fill="#463480"/>
<rect x="587.50" y="155.20" width="27.75" height="11.65" fill="#4ec36b"/>
<rect x="614.05" y="155.20" width="27.75" height="11.65" fill="#2f6c8e"/>
</g>
<clipPath id="c375r18"><rect x="374.10" y="164.85" width="267.50" height="10.15"/></clipPath>
<g clip-path="url(#c375r18)" opacity="0.9999">
<rect x="375.10" y="163.85" width="27.75" height="11.65" fill="#21918c"/>
<rect x="401.65" y="163.85" width="27.75" height="11.65" fill="#22a884"/>
<rect x="428.20" y="163.85" width="27.75" height="11.65" fill="#3bbb75"/>
<rect x="454.75" y="163.85" width="27.75" height="11.65" fill="#463480"/>
<rect x="481.30" y="163.85" width="27.75" height="11.65" fill="#228b8d"/>
<rect x="507.85" y="163.85" width="27.75" height="11.65" fill="#2a788e"/>
<rect x="534.40" y="163.85" width="27.75" height="11.65" fill="#23898e"/>
<rect x="560.95" y="163.85" width="27.75" height="11.65" fill="#4ec36b"/>
<rect x="587.50" y="163.85" width="27.75" height="11.65" fill="#287d8e"/>
<rect x="614.05" y="163.85" width="27.75" height="11.65" fill="#3c4f8a"/>
</g>
<clipPath id="c375r19"><rect x="374.10" y="173.50" width="267.50" height="10.15"/></clipPath>
<g clip-path="url(#c375r19)" opacity="0.9999">
<rect x="375.10" y="172.50" width="27.75" height="11.65" fill="#433e85"/>
<rect x="401.65" y="172.50" width="27.75" height="11.65" fill="#a8db34"/>
<rect x="428.20" y="172.50" width="27.75" height="11.65" fill="#2f6c8e"/>
<rect x="454.75" y="172.50" width="27.75" height="11.65" fill="#3b528b"/>
<rect x="481.30" y="172.50" width="27.75" height="11.65" fill="#dfe318"/>
<rect x="507.85" y="172.50" width="27.75" height="11.65" fill="#38588c"/>
<rect x="534.40" y="172.50" width="27.75" height="11.65" fill="#472e7c"/>
<rect x="560.95" y="172.50" width="27.75" height="11.65" fill="#404688"/>
<rect x="587.50" y="172.50" width="27.75" height="11.65" fill="#2c738e"/>
<rect x="614.05" y="172.50" width="27.75" height="11.65" fill="#4ec36b"/>
</g>
<clipPath id="c375r20"><rect x="374.10" y="182.15" width="267.50" height="10.15"/></clipPath>
<g clip-path="url(#c375r20)" opacity="0.9999">
<rect x="375.10" y="181.15" width="27.75" height="11.65" fill="#20a386"/>
<rect x="401.65" y="181.15" width="27.75" height="11.65" fill="#463480"/>
<rect x="428.20" y="181.15" width="27.75" height="11.65" fill="#3e4c8a"/>
<rect x="454.75" y="181.15" width="27.75" height="11.65" fill="#3bbb75"/>
<rect x="481.30" y="181.15" width="27.75" height="11.65" fill="#20a386"/>
<rect x="507.85" y="181.15" width="27.75" height="11.65" fill="#7ad151"/>
<rect x="534.40" y="181.15" width="27.75" height="11.65" fill="#22a884"/>
<rect x="560.95" y="181.15" width="27.75" height="11.65" fill="#1fa188"/>
<rect x="587.50" y="181.15" width="27.75" height="11.65" fill="#5ec962"/>
<rect x="614.05" y="181.15" width="27.75" height="11.65" fill="#1e9c89"/>
</g>
<clipPath id="c375r21"><rect x="374.10" y="190.80" width="267.50" height="10.15"/></clipPath>
<g clip-path="url(#c375r21)" opacity="0.9999">
<rect x="375.10" y="189.80" width="27.75" height="11.65" fill="#bddf26"/>
<rect x="401.65" y="189.80" width="27.75" height="11.65" fill="#3e4989"/>
<rect x="428.20" y="189.80" width="27.75" height="11.65" fill="#b0dd2f"/>
<rect x="454.75" y="189.80" width="27.75" height="11.65" fill="#a8db34"/>
<rect x="481.30" y="189.80" width="27.75" height="11.65" fill="#2f6c8e"/>
<rect x="507.85" y="189.80" width="27.75" height="11.65" fill="#287d8e"/>
<rect x="534.40" y="189.80" width="27.75" height="11.65" fill="#9bd93c"/>
<rect x="560.95" y="189.80" width="27.75" height="11.65" fill="#69cd5b"/>
<rect x="587.50" y="189.80" width="27.75" height="11.65" fill="#37b878"/>
<rect x="614.05" y="189.80" width="27.75" height="11.65" fill="#3b528b"/>
</g>
<clipPath id="c375r22"><rect x="374.10" y="199.45" width="267.50" height="10.15"/></clipPath>
<g clip-path="url(#c375r22)" opacity="0.9999">
<rect x="375.10" y="198.45" width="27.75" height="11.65" fill="#3e4989"/>
<rect x="401.65" y="198.45" width="27.75" height="11.65" fill="#1fa188"/>
<rect x="428.20" y="198.45" width="27.75" height="11.65" fill="#fde725"/>
<rect x="454.75" y="198.45" width="27.75" height="11.65" fill="#1fa188"/>
<rect x="481.30" y="198.45" width="27.75" height="11.65" fill="#3e4c8a"/>
<rect x="507.85" y="198.45" width="27.75" height="11.65" fill="#463480"/>
<rect x="534.40" y="198.45" width="27.75" height="11.65" fill="#32648e"/>
<rect x="560.95" y="198.45" width="27.75" height="11.65" fill="#3c4f8a"/>
<rect x="587.50" y="198.45" width="27.75" height="11.65" fill="#7ad151"/>
<rect x="614.05" y="198.45" width="27.75" height="11.65" fill="#481d6f"/>
</g>
<clipPath id="c375r23"><rect x="374.10" y="208.10" width="267.50" height="10.15"/></clipPath>
<g clip-path="url(#c375r23)" opacity="0.9999">
<rect x="375.10" y="207.10" width="27.75" height="11.65" fill="#1f978b"/>
<rect x="401.65" y="207.10" width="27.75" height="11.65" fill="#37b878"/>
<rect x="428.20" y="207.10" width="27.75" height="11.65" fill="#e5e419"/>
<rect x="454.75" y="207.10" width="27.75" height="11.65" fill="#440154"/>
<rect x="481.30" y="207.10" width="27.75" height="11.65" fill="#2f6c8e"/>
<rect x="507.85" y="207.10" width="27.75" height="11.65" fill="#287d8e"/>
<rect x="534.40" y="207.10" width="27.75" height="11.65" fill="#26ad81"/>
<rect x="560.95" y="207.10" width="27.75" height="11.65" fill="#86d549"/>
<rect x="587.50" y="207.10" width="27.75" height="11.65" fill="#37b878"/>
<rect x="614.05" y="207.10" width="27.75" height="11.65" fill="#463480"/>
</g>
</g>
<rect x="375.10" y="9.15" width="265.50" height="207.60" fill="none" stroke="#000" stroke-width="0.58" stroke-opacity="0.85"/>
<line x1="388.38" y1="216.75" x2="388.38" y2="218.95" stroke="#000" stroke-width="0.7"/>
<line x1="414.93" y1="216.75" x2="414.93" y2="218.95" stroke="#000" stroke-width="0.7"/>
<line x1="441.48" y1="216.75" x2="441.48" y2="218.95" stroke="#000" stroke-width="0.7"/>
<line x1="468.03" y1="216.75" x2="468.03" y2="218.95" stroke="#000" stroke-width="0.7"/>
<line x1="494.58" y1="216.75" x2="494.58" y2="218.95" stroke="#000" stroke-width="0.7"/>
<line x1="521.12" y1="216.75" x2="521.12" y2="218.95" stroke="#000" stroke-width="0.7"/>
<line x1="547.68" y1="216.75" x2="547.68" y2="218.95" stroke="#000" stroke-width="0.7"/>
<line x1="574.23" y1="216.75" x2="574.23" y2="218.95" stroke="#000" stroke-width="0.7"/>
<line x1="600.78" y1="216.75" x2="600.78" y2="218.95" stroke="#000" stroke-width="0.7"/>
<line x1="627.33" y1="216.75" x2="627.33" y2="218.95" stroke="#000" stroke-width="0.7"/>
<line x1="372.90" y1="13.48" x2="375.10" y2="13.48" stroke="#000" stroke-width="0.7"/>
<line x1="372.90" y1="22.12" x2="375.10" y2="22.12" stroke="#000" stroke-width="0.7"/>
<line x1="372.90" y1="30.77" x2="375.10" y2="30.77" stroke="#000" stroke-width="0.7"/>
<line x1="372.90" y1="39.43" x2="375.10" y2="39.43" stroke="#000" stroke-width="0.7"/>
<line x1="372.90" y1="48.08" x2="375.10" y2="48.08" stroke="#000" stroke-width="0.7"/>
<line x1="372.90" y1="56.73" x2="375.10" y2="56.73" stroke="#000" stroke-width="0.7"/>
<line x1="372.90" y1="65.38" x2="375.10" y2="65.38" stroke="#000" stroke-width="0.7"/>
<line x1="372.90" y1="74.03" x2="375.10" y2="74.03" stroke="#000" stroke-width="0.7"/>
<line x1="372.90" y1="82.68" x2="375.10" y2="82.68" stroke="#000" stroke-width="0.7"/>
<line x1="372.90" y1="91.33" x2="375.10" y2="91.33" stroke="#000" stroke-width="0.7"/>
<line x1="372.90" y1="99.98" x2="375.10" y2="99.98" stroke="#000" stroke-width="0.7"/>
<line x1="372.90" y1="108.63" x2="375.10" y2="108.63" stroke="#000" stroke-width="0.7"/>
<line x1="372.90" y1="117.28" x2="375.10" y2="117.28" stroke="#000" stroke-width="0.7"/>
<line x1="372.90" y1="125.93" x2="375.10" y2="125.93" stroke="#000" stroke-width="0.7"/>
<line x1="372.90" y1="134.58" x2="375.10" y2="134.58" stroke="#000" stroke-width="0.7"/>
<line x1="372.90" y1="143.23" x2="375.10" y2="143.23" stroke="#000" stroke-width="0.7"/>
<line x1="372.90" y1="151.88" x2="375.10" y2="151.88" stroke="#000" stroke-width="0.7"/>
<line x1="372.90" y1="160.53" x2="375.10" y2="160.53" stroke="#000" stroke-width="0.7"/>
<line x1="372.90" y1="169.18" x2="375.10" y2="169.18" stroke="#000" stroke-width="0.7"/>
<line x1="372.90" y1="177.83" x2="375.10" y2="177.83" stroke="#000" stroke-width="0.7"/>
<line x1="372.90" y1="186.48" x2="375.10" y2="186.48" stroke="#000" stroke-width="0.7"/>
<line x1="372.90" y1="195.12" x2="375.10" y2="195.12" stroke="#000" stroke-width="0.7"/>
<line x1="372.90" y1="203.78" x2="375.10" y2="203.78" stroke="#000" stroke-width="0.7"/>
<line x1="372.90" y1="212.43" x2="375.10" y2="212.43" stroke="#000" stroke-width="0.7"/>
<rect x="652.20" y="9.15" width="10.40" height="207.60" fill="url(#vg)" stroke="#000" stroke-width="0.48"/>
<line x1="662.60" y1="175.44" x2="664.80" y2="175.44" stroke="#000" stroke-width="0.7"/>
<line x1="662.60" y1="133.76" x2="664.80" y2="133.76" stroke="#000" stroke-width="0.7"/>
<line x1="662.60" y1="92.08" x2="664.80" y2="92.08" stroke="#000" stroke-width="0.7"/>
<line x1="662.60" y1="50.40" x2="664.80" y2="50.40" stroke="#000" stroke-width="0.7"/>
<g id="txt">
<text x="37.63" y="228.47" font-size="6.95" text-anchor="middle" textLength="8.33" lengthAdjust="spacingAndGlyphs" transform="rotate(-45 37.63 226.37)" class="r">H0</text>
<text x="48.70" y="228.47" font-size="6.95" text-anchor="middle" textLength="8.33" lengthAdjust="spacingAndGlyphs" transform="rotate(-45 48.70 226.37)" class="r">H1</text>
<text x="59.77" y="228.47" font-size="6.95" text-anchor="middle" textLength="8.33" lengthAdjust="spacingAndGlyphs" transform="rotate(-45 59.77 226.37)" class="r">H2</text>
<text x="70.83" y="228.47" font-size="6.95" text-anchor="middle" textLength="8.33" lengthAdjust="spacingAndGlyphs" transform="rotate(-45 70.83 226.37)" class="r">H3</text>
<text x="81.90" y="228.47" font-size="6.95" text-anchor="middle" textLength="8.33" lengthAdjust="spacingAndGlyphs" transform="rotate(-45 81.90 226.37)" class="r">H4</text>
<text x="92.97" y="228.47" font-size="6.95" text-anchor="middle" textLength="8.33" lengthAdjust="spacingAndGlyphs" transform="rotate(-45 92.97 226.37)" class="r">H5</text>
<text x="104.03" y="228.47" font-size="6.95" text-anchor="middle" textLength="8.33" lengthAdjust="spacingAndGlyphs" transform="rotate(-45 104.03 226.37)" class="r">H6</text>
<text x="115.10" y="228.47" font-size="6.95" text-anchor="middle" textLength="8.33" lengthAdjust="spacingAndGlyphs" transform="rotate(-45 115.10 226.37)" class="r">H7</text>
<text x="126.17" y="228.47" font-size="6.95" text-anchor="middle" textLength="8.33" lengthAdjust="spacingAndGlyphs" transform="rotate(-45 126.17 226.37)" class="r">H8</text>
<text x="137.23" y="228.47" font-size="6.95" text-anchor="middle" textLength="8.33" lengthAdjust="spacingAndGlyphs" transform="rotate(-45 137.23 226.37)" class="r">H9</text>
<text x="148.30" y="229.82" font-size="6.95" text-anchor="middle" textLength="12.15" lengthAdjust="spacingAndGlyphs" transform="rotate(-45 148.30 227.72)" class="r">H10</text>
<text x="159.37" y="229.82" font-size="6.95" text-anchor="middle" textLength="12.15" lengthAdjust="spacingAndGlyphs" transform="rotate(-45 159.37 227.72)" class="r">H11</text>
<text x="170.43" y="229.82" font-size="6.95" text-anchor="middle" textLength="12.15" lengthAdjust="spacingAndGlyphs" transform="rotate(-45 170.43 227.72)" class="r">H12</text>
<text x="181.50" y="229.82" font-size="6.95" text-anchor="middle" textLength="12.15" lengthAdjust="spacingAndGlyphs" transform="rotate(-45 181.50 227.72)" class="r">H13</text>
<text x="192.57" y="229.82" font-size="6.95" text-anchor="middle" textLength="12.15" lengthAdjust="spacingAndGlyphs" transform="rotate(-45 192.57 227.72)" class="r">H14</text>
<text x="203.63" y="229.82" font-size="6.95" text-anchor="middle" textLength="12.15" lengthAdjust="spacingAndGlyphs" transform="rotate(-45 203.63 227.72)" class="r">H15</text>
<text x="214.70" y="229.82" font-size="6.95" text-anchor="middle" textLength="12.15" lengthAdjust="spacingAndGlyphs" transform="rotate(-45 214.70 227.72)" class="r">H16</text>
<text x="225.77" y="229.82" font-size="6.95" text-anchor="middle" textLength="12.15" lengthAdjust="spacingAndGlyphs" transform="rotate(-45 225.77 227.72)" class="r">H17</text>
<text x="236.83" y="229.82" font-size="6.95" text-anchor="middle" textLength="12.15" lengthAdjust="spacingAndGlyphs" transform="rotate(-45 236.83 227.72)" class="r">H18</text>
<text x="247.90" y="229.82" font-size="6.95" text-anchor="middle" textLength="12.15" lengthAdjust="spacingAndGlyphs" transform="rotate(-45 247.90 227.72)" class="r">H19</text>
<text x="258.97" y="229.82" font-size="6.95" text-anchor="middle" textLength="12.15" lengthAdjust="spacingAndGlyphs" transform="rotate(-45 258.97 227.72)" class="r">H20</text>
<text x="270.03" y="229.82" font-size="6.95" text-anchor="middle" textLength="12.15" lengthAdjust="spacingAndGlyphs" transform="rotate(-45 270.03 227.72)" class="r">H21</text>
<text x="281.10" y="229.82" font-size="6.95" text-anchor="middle" textLength="12.15" lengthAdjust="spacingAndGlyphs" transform="rotate(-45 281.10 227.72)" class="r">H22</text>
<text x="292.17" y="229.82" font-size="6.95" text-anchor="middle" textLength="12.15" lengthAdjust="spacingAndGlyphs" transform="rotate(-45 292.17 227.72)" class="r">H23</text>
<text x="27.90" y="21.93" font-size="6.95" text-anchor="end" textLength="19.48" lengthAdjust="spacingAndGlyphs">Node0</text>
<text x="27.90" y="42.69" font-size="6.95" text-anchor="end" textLength="19.48" lengthAdjust="spacingAndGlyphs">Node1</text>
<text x="27.90" y="63.45" font-size="6.95" text-anchor="end" textLength="19.48" lengthAdjust="spacingAndGlyphs">Node2</text>
<text x="27.90" y="84.21" font-size="6.95" text-anchor="end" textLength="19.48" lengthAdjust="spacingAndGlyphs">Node3</text>
<text x="27.90" y="104.97" font-size="6.95" text-anchor="end" textLength="19.48" lengthAdjust="spacingAndGlyphs">Node4</text>
<text x="27.90" y="125.73" font-size="6.95" text-anchor="end" textLength="19.48" lengthAdjust="spacingAndGlyphs">Node5</text>
<text x="27.90" y="146.49" font-size="6.95" text-anchor="end" textLength="19.48" lengthAdjust="spacingAndGlyphs">Node6</text>
<text x="27.90" y="167.25" font-size="6.95" text-anchor="end" textLength="19.48" lengthAdjust="spacingAndGlyphs">Node7</text>
<text x="27.90" y="188.01" font-size="6.95" text-anchor="end" textLength="19.48" lengthAdjust="spacingAndGlyphs">Node8</text>
<text x="27.90" y="208.77" font-size="6.95" text-anchor="end" textLength="19.48" lengthAdjust="spacingAndGlyphs">Node9</text>
<text x="164.90" y="5.35" font-size="7.70" text-anchor="middle" textLength="87.07" lengthAdjust="spacingAndGlyphs">Temporal-First Attention</text>
<text x="164.90" y="241.60" font-size="6.95" text-anchor="middle" textLength="33.38" lengthAdjust="spacingAndGlyphs">Time Steps</text>
<text x="5.60" y="113.25" font-size="6.95" text-anchor="middle" textLength="18.79" lengthAdjust="spacingAndGlyphs" transform="rotate(-90 5.60 113.25)">Nodes</text>
<text x="324.00" y="177.59" font-size="6.95" text-anchor="start" textLength="9.54" lengthAdjust="spacingAndGlyphs">0.2</text>
<text x="324.00" y="135.91" font-size="6.95" text-anchor="start" textLength="9.54" lengthAdjust="spacingAndGlyphs">0.4</text>
<text x="324.00" y="94.23" font-size="6.95" text-anchor="start" textLength="9.54" lengthAdjust="spacingAndGlyphs">0.6</text>
<text x="324.00" y="52.55" font-size="6.95" text-anchor="start" textLength="9.54" lengthAdjust="spacingAndGlyphs">0.8</text>
<text x="341.00" y="113.25" font-size="6.95" text-anchor="middle" textLength="50.50" lengthAdjust="spacingAndGlyphs" transform="rotate(-90 341.00 113.25)">Attention Weight</text>
<text x="388.38" y="232.41" font-size="6.95" text-anchor="middle" textLength="19.48" lengthAdjust="spacingAndGlyphs" transform="rotate(-45 388.38 230.31)" class="r">Node0</text>
<text x="414.93" y="232.41" font-size="6.95" text-anchor="middle" textLength="19.48" lengthAdjust="spacingAndGlyphs" transform="rotate(-45 414.93 230.31)" class="r">Node1</text>
<text x="441.48" y="232.41" font-size="6.95" text-anchor="middle" textLength="19.48" lengthAdjust="spacingAndGlyphs" transform="rotate(-45 441.48 230.31)" class="r">Node2</text>
<text x="468.03" y="232.41" font-size="6.95" text-anchor="middle" textLength="19.48" lengthAdjust="spacingAndGlyphs" transform="rotate(-45 468.03 230.31)" class="r">Node3</text>
<text x="494.58" y="232.41" font-size="6.95" text-anchor="middle" textLength="19.48" lengthAdjust="spacingAndGlyphs" transform="rotate(-45 494.58 230.31)" class="r">Node4</text>
<text x="521.12" y="232.41" font-size="6.95" text-anchor="middle" textLength="19.48" lengthAdjust="spacingAndGlyphs" transform="rotate(-45 521.12 230.31)" class="r">Node5</text>
<text x="547.68" y="232.41" font-size="6.95" text-anchor="middle" textLength="19.48" lengthAdjust="spacingAndGlyphs" transform="rotate(-45 547.68 230.31)" class="r">Node6</text>
<text x="574.23" y="232.41" font-size="6.95" text-anchor="middle" textLength="19.48" lengthAdjust="spacingAndGlyphs" transform="rotate(-45 574.23 230.31)" class="r">Node7</text>
<text x="600.78" y="232.41" font-size="6.95" text-anchor="middle" textLength="19.48" lengthAdjust="spacingAndGlyphs" transform="rotate(-45 600.78 230.31)" class="r">Node8</text>
<text x="627.33" y="232.41" font-size="6.95" text-anchor="middle" textLength="19.48" lengthAdjust="spacingAndGlyphs" transform="rotate(-45 627.33 230.31)" class="r">Node9</text>
<text x="370.90" y="15.88" font-size="6.95" text-anchor="end" textLength="8.33" lengthAdjust="spacingAndGlyphs">H0</text>
<text x="370.90" y="24.52" font-size="6.95" text-anchor="end" textLength="8.33" lengthAdjust="spacingAndGlyphs">H1</text>
<text x="370.90" y="33.17" font-size="6.95" text-anchor="end" textLength="8.33" lengthAdjust="spacingAndGlyphs">H2</text>
<text x="370.90" y="41.83" font-size="6.95" text-anchor="end" textLength="8.33" lengthAdjust="spacingAndGlyphs">H3</text>
<text x="370.90" y="50.48" font-size="6.95" text-anchor="end" textLength="8.33" lengthAdjust="spacingAndGlyphs">H4</text>
<text x="370.90" y="59.12" font-size="6.95" text-anchor="end" textLength="8.33" lengthAdjust="spacingAndGlyphs">H5</text>
<text x="370.90" y="67.78" font-size="6.95" text-anchor="end" textLength="8.33" lengthAdjust="spacingAndGlyphs">H6</text>
<text x="370.90" y="76.43" font-size="6.95" text-anchor="end" textLength="8.33" lengthAdjust="spacingAndGlyphs">H7</text>
<text x="370.90" y="85.08" font-size="6.95" text-anchor="end" textLength="8.33" lengthAdjust="spacingAndGlyphs">H8</text>
<text x="370.90" y="93.73" font-size="6.95" text-anchor="end" textLength="8.33" lengthAdjust="spacingAndGlyphs">H9</text>
<text x="370.90" y="102.38" font-size="6.95" text-anchor="end" textLength="12.15" lengthAdjust="spacingAndGlyphs">H10</text>
<text x="370.90" y="111.03" font-size="6.95" text-anchor="end" textLength="12.15" lengthAdjust="spacingAndGlyphs">H11</text>
<text x="370.90" y="119.68" font-size="6.95" text-anchor="end" textLength="12.15" lengthAdjust="spacingAndGlyphs">H12</text>
<text x="370.90" y="128.33" font-size="6.95" text-anchor="end" textLength="12.15" lengthAdjust="spacingAndGlyphs">H13</text>
<text x="370.90" y="136.98" font-size="6.95" text-anchor="end" textLength="12.15" lengthAdjust="spacingAndGlyphs">H14</text>
<text x="370.90" y="145.63" font-size="6.95" text-anchor="end" textLength="12.15" lengthAdjust="spacingAndGlyphs">H15</text>
<text x="370.90" y="154.28" font-size="6.95" text-anchor="end" textLength="12.15" lengthAdjust="spacingAndGlyphs">H16</text>
<text x="370.90" y="162.93" font-size="6.95" text-anchor="end" textLength="12.15" lengthAdjust="spacingAndGlyphs">H17</text>
<text x="370.90" y="171.58" font-size="6.95" text-anchor="end" textLength="12.15" lengthAdjust="spacingAndGlyphs">H18</text>
<text x="370.90" y="180.23" font-size="6.95" text-anchor="end" textLength="12.15" lengthAdjust="spacingAndGlyphs">H19</text>
<text x="370.90" y="188.88" font-size="6.95" text-anchor="end" textLength="12.15" lengthAdjust="spacingAndGlyphs">H20</text>
<text x="370.90" y="197.53" font-size="6.95" text-anchor="end" textLength="12.15" lengthAdjust="spacingAndGlyphs">H21</text>
<text x="370.90" y="206.18" font-size="6.95" text-anchor="end" textLength="12.15" lengthAdjust="spacingAndGlyphs">H22</text>
<text x="370.90" y="214.83" font-size="6.95" text-anchor="end" textLength="12.15" lengthAdjust="spacingAndGlyphs">H23</text>
<text x="507.85" y="5.35" font-size="7.70" text-anchor="middle" textLength="78.82" lengthAdjust="spacingAndGlyphs">Spatial-First Attention</text>
<text x="507.85" y="246.30" font-size="6.95" text-anchor="middle" textLength="18.79" lengthAdjust="spacingAndGlyphs">Nodes</text>
<text x="355.00" y="113.25" font-size="6.95" text-anchor="middle" textLength="33.38" lengthAdjust="spacingAndGlyphs" transform="rotate(-90 355.00 113.25)">Time Steps</text>
<text x="667.00" y="177.59" font-size="6.95" text-anchor="start" textLength="9.54" lengthAdjust="spacingAndGlyphs">0.2</text>
<text x="667.00" y="135.91" font-size="6.95" text-anchor="start" textLength="9.54" lengthAdjust="spacingAndGlyphs">0.4</text>
<text x="667.00" y="94.23" font-size="6.95" text-anchor="start" textLength="9.54" lengthAdjust="spacingAndGlyphs">0.6</text>
<text x="667.00" y="52.55" font-size="6.95" text-anchor="start" textLength="9.54" lengthAdjust="spacingAndGlyphs">0.8</text>
<text x="683.50" y="113.25" font-size="6.95" text-anchor="middle" textLength="50.50" lengthAdjust="spacingAndGlyphs" transform="rotate(-90 683.50 113.25)">Attention Weight</text>
</g>
</svg>
</body></html>
